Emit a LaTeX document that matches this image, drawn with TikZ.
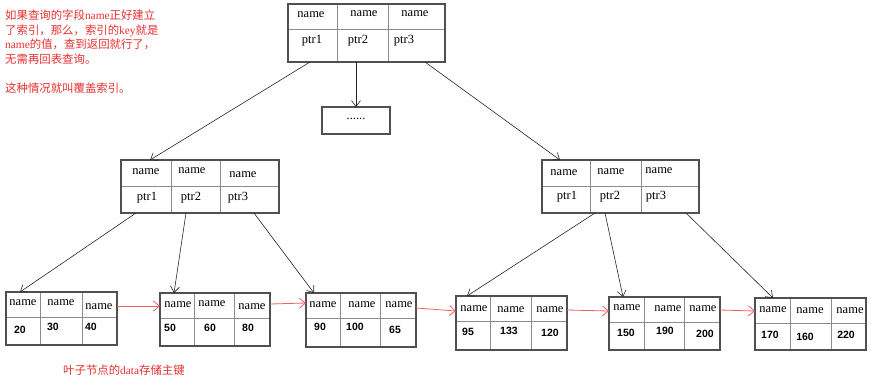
\documentclass[tikz,border=0pt]{standalone}
\usepackage{fontspec}
\setmainfont{Liberation Serif}
\newfontfamily\numfont{Liberation Sans}
\newfontfamily\cjk{Noto Sans CJK SC}
\usetikzlibrary{arrows.meta}
\definecolor{txtred}{RGB}{232,48,48}
\definecolor{arrred}{RGB}{240,96,96}
\definecolor{boxgray}{RGB}{80,80,80}
\definecolor{gridgray}{RGB}{140,140,140}
\tikzset{
  tblbox/.style={draw=boxgray, line width=1.1pt, rectangle, inner sep=0pt, outer sep=0pt},
  gridline/.style={draw=gridgray, line width=0.7pt},
  nm/.style={inner sep=0pt, font=\fontsize{12.5}{13}\selectfont},
  val/.style={inner sep=0pt, font=\numfont\bfseries\fontsize{10.5}{12}\selectfont},
  arr/.style={draw=black!85, line width=0.6pt, -{Straight Barb[length=6pt,width=9pt]}},
  redarr/.style={draw=arrred, line width=0.8pt, -{Straight Barb[length=6pt,width=10pt]}},
  note/.style={inner sep=0pt, text=txtred, align=left, font=\cjk\fontsize{11.4}{14.5}\selectfont}
}
\newcommand{\tbl}[8]{%
  \draw[gridline] (#2,#6) -- (#4,#6) (#7,#3) -- (#7,#5) (#8,#3) -- (#8,#5);
  \node[tblbox, minimum width={#4-#2}, minimum height={#5-#3}] (#1) at ({(#2+#4)/2},{(#3+#5)/2}) {};
}
\begin{document}
\begin{tikzpicture}[x=1pt,y=-1pt]
\useasboundingbox[fill=white] (0,0) rectangle (886,384);

% notes
\node[note, anchor=north west] (note) at (5,10) {%
如果查询的字段{\rmfamily name}正好建立\\
了索引，那么，索引的{\rmfamily key}就是\\
{\rmfamily name}的值，查到返回就行了，\\
无需再回表查询。\\[14.5pt]
这种情况就叫覆盖索引。};
\node[note, anchor=west] (foot) at (63,370) {叶子节点的{\rmfamily data}存储主键};

% root
\tbl{root}{288}{4}{445}{62}{29}{337}{388}
\node[nm] (root-n1) at (311,15) {name};
\node[nm] (root-n2) at (364,14) {name};
\node[nm] (root-n3) at (415,14) {name};
\node[nm] (root-p1) at (312,41) {ptr1};
\node[nm] (root-p2) at (358,41) {ptr2};
\node[nm] (root-p3) at (404,41) {ptr3};

% dots
\node[tblbox, minimum width=68, minimum height=27] (dots) at (356,120.5) {};
\node[nm] (dots-t) at (356,119) {......};

% left mid
\tbl{lm}{121}{160}{279}{213}{186}{171}{220}
\node[nm] (lm-n1) at (146,172) {name};
\node[nm] (lm-n2) at (192,171) {name};
\node[nm] (lm-n3) at (243,175) {name};
\node[nm] (lm-p1) at (147,198) {ptr1};
\node[nm] (lm-p2) at (191,198) {ptr2};
\node[nm] (lm-p3) at (238,198) {ptr3};

% right mid
\tbl{rm}{542}{160}{699}{213}{186}{590}{641}
\node[nm] (rm-n1) at (564,173) {name};
\node[nm] (rm-n2) at (611,172) {name};
\node[nm] (rm-n3) at (659,171) {name};
\node[nm] (rm-p1) at (567,197) {ptr1};
\node[nm] (rm-p2) at (610,197) {ptr2};
\node[nm] (rm-p3) at (656,197) {ptr3};

% leaves
\tbl{l1}{6}{292}{117}{345}{317}{40}{82}
\node[nm] (l1-n1) at (23,303) {name};
\node[nm] (l1-n2) at (61,303) {name};
\node[nm] (l1-n3) at (99,307) {name};
\node[val] (l1-v1) at (20,330) {20};
\node[val] (l1-v2) at (53,327) {30};
\node[val] (l1-v3) at (91,327) {40};

\tbl{l2}{160}{293}{270}{346}{318}{194}{234}
\node[nm] (l2-n1) at (178,305) {name};
\node[nm] (l2-n2) at (212,304) {name};
\node[nm] (l2-n3) at (252,307) {name};
\node[val] (l2-v1) at (170,328) {50};
\node[val] (l2-v2) at (210,328) {60};
\node[val] (l2-v3) at (248,328) {80};

\tbl{l3}{306}{293}{416}{347}{318}{340}{380}
\node[nm] (l3-n1) at (323,305) {name};
\node[nm] (l3-n2) at (362,305) {name};
\node[nm] (l3-n3) at (399,305) {name};
\node[val] (l3-v1) at (320,327) {90};
\node[val] (l3-v2) at (355,327) {100};
\node[val] (l3-v3) at (395,330) {65};

\tbl{l4}{456}{296}{567}{350}{321}{490}{531}
\node[nm] (l4-n1) at (474,309) {name};
\node[nm] (l4-n2) at (511,310) {name};
\node[nm] (l4-n3) at (550,310) {name};
\node[val] (l4-v1) at (468,332) {95};
\node[val] (l4-v2) at (509,331) {133};
\node[val] (l4-v3) at (550,333) {120};

\tbl{l5}{609}{297}{720}{350}{322}{644}{684}
\node[nm] (l5-n1) at (627,308) {name};
\node[nm] (l5-n2) at (668,309) {name};
\node[nm] (l5-n3) at (703,309) {name};
\node[val] (l5-v1) at (626,333) {150};
\node[val] (l5-v2) at (665,331) {190};
\node[val] (l5-v3) at (705,334) {200};

\tbl{l6}{755}{298}{866}{350}{323}{790}{831}
\node[nm] (l6-n1) at (773,310) {name};
\node[nm] (l6-n2) at (810,311) {name};
\node[nm] (l6-n3) at (850,311) {name};
\node[val] (l6-v1) at (770,335) {170};
\node[val] (l6-v2) at (805,337) {160};
\node[val] (l6-v3) at (846,335) {220};

% tree connectors
\draw[arr] ([xshift=22pt]root.south west) -- ([xshift=29pt]lm.north west);
\draw[arr] ([xshift=-10.5pt]root.south) -- (dots.north);
\draw[arr] ([xshift=-20pt]root.south east) -- ([xshift=18pt]rm.north west);

\draw[arr] ([xshift=15pt]lm.south west) -- ([xshift=14pt]l1.north west);
\draw[arr] ([xshift=65pt]lm.south west) -- ([xshift=14pt]l2.north west);
\draw[arr] ([xshift=133pt]lm.south west) -- ([xshift=8pt]l3.north west);

\draw[arr] ([xshift=53pt]rm.south west) -- ([xshift=11pt]l4.north west);
\draw[arr] ([xshift=63pt]rm.south west) -- ([xshift=14pt]l5.north west);
\draw[arr] ([xshift=144pt]rm.south west) -- ([xshift=18pt]l6.north west);

% leaf links
\draw[redarr] ([yshift=-14pt]l1.north east) -- ([yshift=-13pt]l2.north west);
\draw[redarr] ([yshift=-11pt]l2.north east) -- ([yshift=-10pt]l3.north west);
\draw[redarr] ([yshift=-15pt]l3.north east) -- ([yshift=-15pt]l4.north west);
\draw[redarr] ([yshift=-14pt]l4.north east) -- ([yshift=-14pt]l5.north west);
\draw[redarr] ([yshift=-13pt]l5.north east) -- ([yshift=-13pt]l6.north west);
\end{tikzpicture}
\end{document}
